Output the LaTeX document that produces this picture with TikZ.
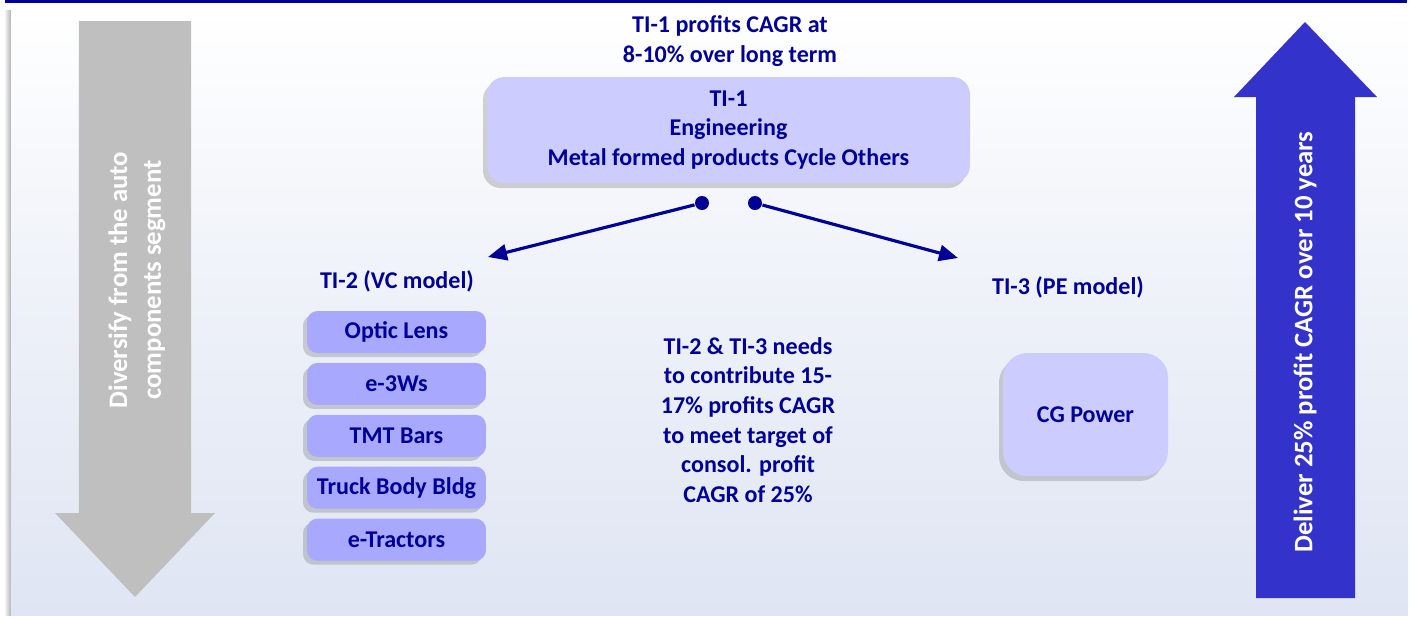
\documentclass[tikz,border=0pt]{standalone}
\usepackage{fontspec}
\setmainfont{Carlito}
\usepackage{xcolor}
\usepackage{tikz}
\usetikzlibrary{arrows.meta, positioning, shadows}

\definecolor{navytxt}{RGB}{0,0,150}
\definecolor{boxlight}{RGB}{204,204,255}
\definecolor{boxmid}{RGB}{168,168,255}
\definecolor{arrowblue}{RGB}{51,51,204}
\definecolor{arrowgrey}{RGB}{191,191,191}
\definecolor{panelblue}{RGB}{223,229,243}

\begin{document}
\begin{tikzpicture}[
    txt/.style={font=\fontsize{6.85}{8.3}\selectfont\bfseries, text=navytxt, align=center},
    seg/.style={rectangle, fill=boxlight, rounded corners=5pt, txt, drop shadow={shadow xshift=-0.04, shadow yshift=-0.05, opacity=0.35}},
    sub/.style={rectangle, fill=boxmid, rounded corners=3pt, txt, minimum width=1.79cm, minimum height=0.42cm, inner sep=0pt, drop shadow={shadow xshift=-0.04, shadow yshift=-0.04, opacity=0.35}},
    bigtxt/.style={font=\fontsize{7.6}{9.6}\selectfont\bfseries, text=white, align=center, rotate=90},
    link/.style={-{Triangle[length=1.9mm, width=1.6mm]}, line width=0.9pt, draw=navytxt},
    dot/.style={circle, fill=navytxt, inner sep=0pt, minimum size=0.14cm}
]
    \useasboundingbox (0,0) rectangle (14.13,-6.17);

    % frame: rule on top, soft edge on the left, graded panel
    \draw[navytxt, line width=0.6pt] (0.05,-0.015) -- (14.07,-0.015);
    \shade[left color=white, right color=black!30] (0.04,-0.10) rectangle (0.11,-6.15);
    \shade[top color=white, bottom color=panelblue, middle color=panelblue!55] (0.11,-0.10) rectangle (14.08,-6.15);

    % down arrow on the left
    \fill[arrowgrey] (0.79,-0.21) -- (1.91,-0.21) -- (1.91,-5.13) -- (2.15,-5.13) -- (1.35,-5.97)
        -- (0.55,-5.13) -- (0.79,-5.13) -- cycle;
    \node[bigtxt] (diversify) at (1.37,-2.80) {Diversify from the auto\\components segment};

    % up arrow on the right
    \fill[arrowblue] (12.56,-5.98) -- (12.56,-0.97) -- (12.34,-0.97) -- (13.05,-0.22) -- (13.77,-0.97)
        -- (13.55,-0.97) -- (13.55,-5.98) -- cycle;
    \node[bigtxt] (deliver) at (13.05,-3.42) {Deliver 25\% profit CAGR over 10 years};

    % TI-1 on top
    \node[txt] (ti1head) at (7.30,-0.41) {TI-1 profits CAGR at\\8-10\% over long term};
    \node[seg, minimum width=4.83cm, minimum height=1.06cm] (ti1) at (7.285,-1.30)
        {TI-1\\Engineering\\Metal formed products Cycle Others};

    \node[dot] (dotvc) at (7.02,-2.03) {};
    \node[dot] (dotpe) at (7.55,-2.03) {};

    % TI-2 side
    \node[txt] (vclbl) at (3.97,-2.81) {TI-2 (VC model)};
    \node[sub] (optic) at (3.965,-3.32) {Optic Lens};
    \node[sub, below=0.085 of optic] (ethree) {e-3Ws};
    \node[sub, below=0.085 of ethree] (tmt) {TMT Bars};
    \node[sub, below=0.085 of tmt] (truck) {Truck Body Bldg};
    \node[sub, below=0.085 of truck] (tractor) {e-Tractors};

    % TI-3 side
    \node[txt] (pelbl) at (10.68,-2.87) {TI-3 (PE model)};
    \node[seg, rounded corners=7pt, minimum width=1.65cm, minimum height=1.23cm] (cgpower) at (10.855,-4.145) {CG Power};

    \coordinate (vcend) at (4.88,-2.57);
    \coordinate (peend) at (9.58,-2.58);
    \draw[link] (dotvc) -- (vcend);
    \draw[link] (dotpe) -- (peend);

    % note in the middle
    \node[txt, font=\fontsize{6.85}{8.45}\selectfont\bfseries] (note) at (7.48,-4.20)
        {TI-2 \& TI-3 needs\\to contribute 15-\\17\% profits CAGR\\to meet target of\\consol. profit\\CAGR of 25\%};
\end{tikzpicture}
\end{document}
